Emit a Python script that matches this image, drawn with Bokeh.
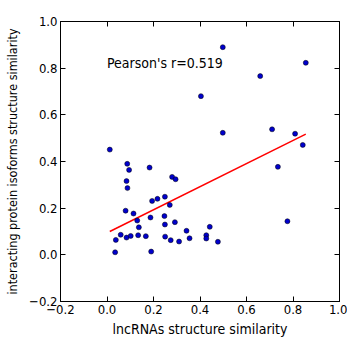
from bokeh.plotting import figure
from bokeh.models import LinearAxis, FixedTicker, Range1d
from bokeh.core.properties import value
from bokeh.embed import file_html
from bokeh.resources import INLINE

lnc_sim = [0.012, 0.087, 0.095, 0.183, 0.084, 0.088, 0.280, 0.295, 0.194, 0.217,
           0.249, 0.270, 0.080, 0.114, 0.187, 0.247, 0.130, 0.249, 0.292, 0.137,
           0.442, 0.342, 0.038, 0.059, 0.084, 0.102, 0.134, 0.167, 0.250, 0.274,
           0.310, 0.355, 0.427, 0.427, 0.477, 0.035, 0.190, 0.735, 0.776, 0.842,
           0.498, 0.855, 0.659, 0.404, 0.498, 0.710, 0.809]
prot_sim = [0.451, 0.390, 0.364, 0.374, 0.316, 0.286, 0.334, 0.324, 0.231, 0.240,
            0.249, 0.214, 0.189, 0.177, 0.160, 0.166, 0.147, 0.130, 0.140, 0.118,
            0.120, 0.103, 0.064, 0.086, 0.074, 0.081, 0.084, 0.080, 0.078, 0.063,
            0.057, 0.071, 0.084, 0.070, 0.056, 0.011, 0.014, 0.377, 0.144, 0.471,
            0.890, 0.823, 0.766, 0.680, 0.523, 0.538, 0.519]

fit_slope = 0.495
fit_intercept = 0.094
annotation = "Pearson's r=0.519"
ticks = [-0.2, 0.0, 0.2, 0.4, 0.6, 0.8, 1.0]
tick_labels = ["\u22120.2", "0.0", "0.2", "0.4", "0.6", "0.8", "1.0"]

FONT = "DejaVu Sans Condensed"

p = figure(width=347, height=345, output_backend="svg", toolbar_location=None,
           x_range=Range1d(-0.2, 1.0), y_range=Range1d(-0.2, 1.0),
           x_axis_label="lncRNAs structure similarity",
           y_axis_label="interacting protein isoforms structure similarity",
           min_border_left=60, min_border_right=8, min_border_top=21, min_border_bottom=44)
p.xgrid.visible = False
p.ygrid.visible = False
p.outline_line_color = "black"
p.outline_line_width = 1
p.background_fill_color = "white"
p.border_fill_color = "white"

overrides = {t: l for t, l in zip(ticks, tick_labels)}
for ax in (p.xaxis[0], p.yaxis[0]):
    ax.ticker = FixedTicker(ticks=ticks)
    ax.major_label_overrides = overrides
    ax.major_tick_in = 5
    ax.major_tick_out = 0
    ax.minor_tick_in = 0
    ax.minor_tick_out = 0
    ax.major_label_text_font = FONT
    ax.major_label_text_font_size = "13px"
    ax.major_label_text_color = "black"
    ax.axis_label_text_font = FONT
    ax.axis_label_text_font_style = "normal"
    ax.axis_label_text_color = "black"
    ax.axis_line_color = "black"
    ax.major_tick_line_color = "black"
p.xaxis[0].major_label_standoff = 3
p.yaxis[0].major_label_standoff = 3
p.xaxis[0].axis_label_text_font_size = "14px"
p.xaxis[0].axis_label_standoff = 4
p.yaxis[0].axis_label_text_font_size = "12.5px"
p.yaxis[0].axis_label_standoff = 6

for loc in ("right", "above"):
    ax = LinearAxis(ticker=FixedTicker(ticks=ticks))
    ax.major_tick_in = 5
    ax.major_tick_out = 0
    ax.minor_tick_in = 0
    ax.minor_tick_out = 0
    ax.major_label_text_font_size = "1px"
    ax.major_label_overrides = {t: "" for t in ticks}
    ax.major_label_standoff = 0
    ax.axis_line_color = "black"
    ax.major_tick_line_color = "black"
    p.add_layout(ax, loc)

x0 = min(lnc_sim)
x1 = max(lnc_sim)
p.line([x0, x1], [fit_intercept + fit_slope * x0, fit_intercept + fit_slope * x1],
       line_color="red", line_width=1.5)
p.scatter(lnc_sim, prot_sim, size=5, fill_color="#0000cc", line_color="black", line_width=0.5)
p.text(x=[0.0], y=[0.821], text=[annotation], text_font=value(FONT),
       text_font_size="14px", text_align="left", text_baseline="middle", text_color="black")

open("out.html", "w").write(file_html(p, INLINE))
